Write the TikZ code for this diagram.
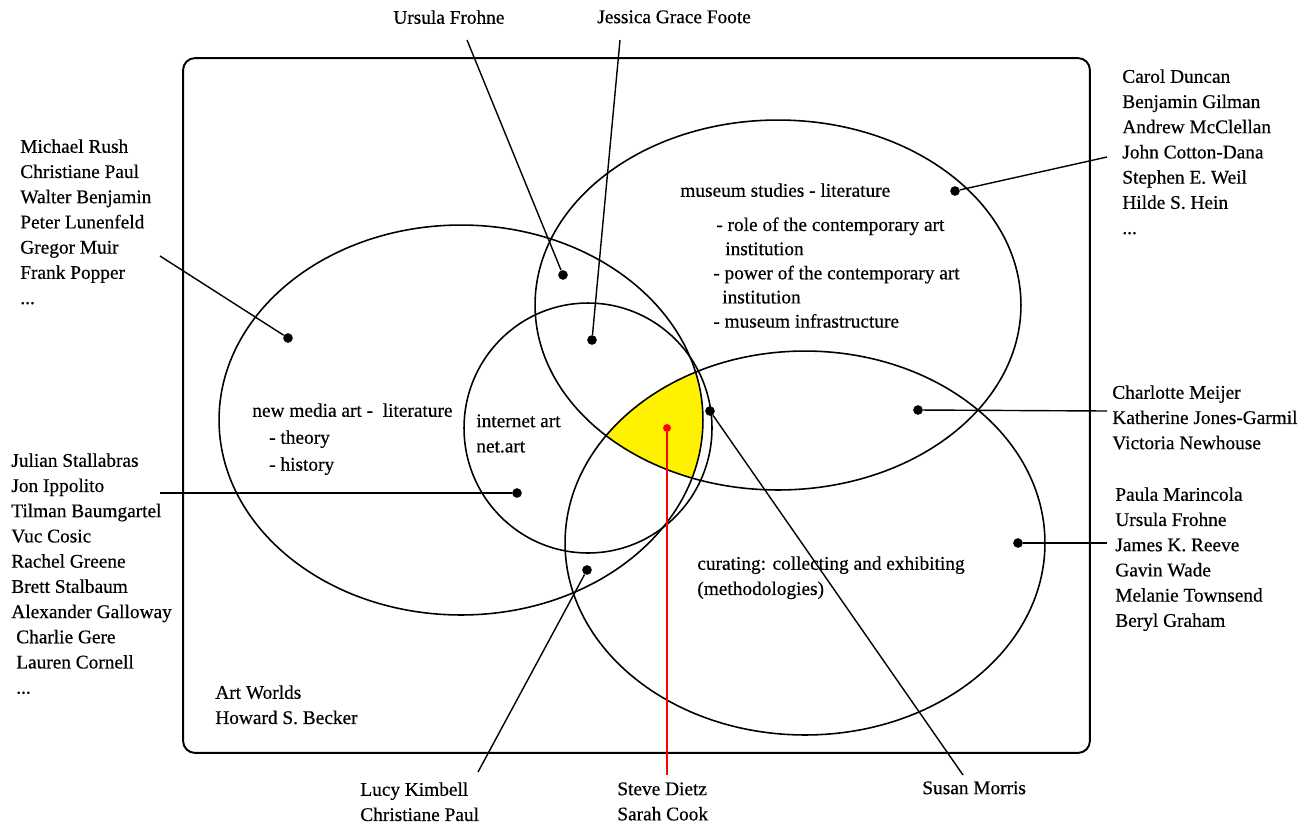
\documentclass[tikz,border=0pt]{standalone}
\usepackage{fontspec}
\setmainfont[FakeBold=0.5]{Liberation Serif}
\usetikzlibrary{shapes.geometric, positioning}

\begin{document}
\begin{tikzpicture}[x=0.02cm, y=-0.02cm,
    zone/.style={ellipse, draw, line width=0.9pt, inner sep=0pt},
    dot/.style={circle, fill=black, inner sep=0pt, minimum size=5.5pt},
    names/.style={align=left, anchor=north west, inner sep=0pt, font=\fontsize{11}{14.35}\selectfont},
    lead/.style={line width=0.8pt}]
    \useasboundingbox (0,0) rectangle (1304,829);
    \node[draw, line width=1.1pt, rounded corners=0.24cm, minimum width=18.14cm, minimum height=13.9cm, inner sep=0pt] (world) at (636.5,405.5) {};
    % yellow overlap of all four fields
    \begin{scope}
        \clip (461,420) ellipse [x radius=4.84cm, y radius=3.9cm];
        \clip (588,428) ellipse [x radius=2.48cm, y radius=2.5cm];
        \clip (778,305) ellipse [x radius=4.86cm, y radius=3.7cm];
        \clip (805,543) ellipse [x radius=4.8cm, y radius=3.84cm];
        \fill[yellow] (550,340) rectangle (730,500);
    \end{scope}
    \node[zone, minimum width=9.68cm, minimum height=7.8cm] (media) at (461,420) {};
    \node[zone, minimum width=4.96cm, minimum height=5cm] (netart) at (588,428) {};
    \node[zone, minimum width=9.72cm, minimum height=7.4cm] (museum) at (778,305) {};
    \node[zone, minimum width=9.6cm, minimum height=7.68cm] (curating) at (805,543) {};

    % texts inside the fields
    \node[names] (mediatxt) at (252,403) {new media art -~ literature\\[1pt]\hspace{9.6pt}- theory\\[1pt]\hspace{9.6pt}- history};
    \node[names] (netarttxt) at (476,414) {internet art\\net.art};
    \node[names] (museumtxt) at (680,183) {museum studies - literature};
    \node[names] (museumlist) at (713,217) {\hspace{1.7pt}- role of the contemporary art\\[-0.6pt]\hspace{6.8pt}institution\\[-0.6pt]- power of the contemporary art\\[-0.6pt]\hspace{5.1pt}institution\\[-0.6pt]- museum infrastructure};
    \node[names] (curatingtxt) at (697,556) {curating: collecting and exhibiting\\(methodologies)};
    \node[names] (becker) at (215,685) {Art Worlds\\Howard S. Becker};

    % name lists
    \node[names] (mediaref) at (20,139) {Michael Rush\\Christiane Paul\\Walter Benjamin\\Peter Lunenfeld\\Gregor Muir\\Frank Popper\\...};
    \node[names] (netartref) at (11,453) {Julian Stallabras\\Jon Ippolito\\Tilman Baumgartel\\Vuc Cosic\\Rachel Greene\\Brett Stalbaum\\Alexander Galloway\\\hspace{2.8pt}Charlie Gere\\\hspace{2.8pt}Lauren Cornell\\\hspace{2.8pt}...};
    \node[names] (museumref) at (1122,69) {Carol Duncan\\Benjamin Gilman\\Andrew McClellan\\John Cotton-Dana\\Stephen E. Weil\\Hilde S. Hein\\...};
    \node[names] (overlapref) at (1112,385) {Charlotte Meijer\\Katherine Jones-Garmil\\Victoria Newhouse};
    \node[names] (curatingref) at (1115,487) {Paula Marincola\\Ursula Frohne\\James K. Reeve\\Gavin Wade\\Melanie Townsend\\Beryl Graham};
    \node[names] (frohne) at (393,10) {Ursula Frohne};
    \node[names] (foote) at (597,10) {Jessica Grace Foote};
    \node[names] (kimbell) at (360,782) {Lucy Kimbell\\Christiane Paul};
    \node[names] (dietz) at (617,782) {Steve Dietz\\Sarah Cook};
    \node[names] (morris) at (922,781) {Susan Morris};

    % dots
    \node[dot] (dmedia) at (288,338) {};
    \node[dot] (dfrohne) at (563,275) {};
    \node[dot] (dfoote) at (592,340) {};
    \node[dot] (dmuseum) at (955,191) {};
    \node[dot] (dnetart) at (517,493) {};
    \node[dot] (dkimbell) at (587,570) {};
    \node[dot, fill=red, minimum size=4.5pt] (ddietz) at (667,428) {};
    \node[dot] (dmorris) at (710,411) {};
    \node[dot] (doverlap) at (918,410) {};
    \node[dot] (dcurating) at (1018,543) {};

    % free ends of the leaders
    \coordinate (emedia) at (160,256);
    \coordinate (efrohne) at (467,40);
    \coordinate (efoote) at (620,40);
    \coordinate (emuseum) at (1107,157);
    \coordinate (enetart) at (160,493);
    \coordinate (ekimbell) at (478,772);
    \coordinate (edietz) at (667,775);
    \coordinate (emorris) at (963,775);
    \coordinate (eoverlap) at (1107,411);
    \coordinate (ecurating) at (1107,543);

    \draw[lead] (emedia) -- (dmedia);
    \draw[lead] (efrohne) -- (dfrohne);
    \draw[lead] (efoote) -- (dfoote);
    \draw[lead] (emuseum) -- (dmuseum);
    \draw[lead] (enetart) -- (dnetart);
    \draw[lead] (ekimbell) -- (dkimbell);
    \draw[lead, red] (edietz) -- (ddietz);
    \draw[lead] (emorris) -- (dmorris);
    \draw[lead] (eoverlap) -- (doverlap);
    \draw[lead] (ecurating) -- (dcurating);
\end{tikzpicture}
\end{document}
